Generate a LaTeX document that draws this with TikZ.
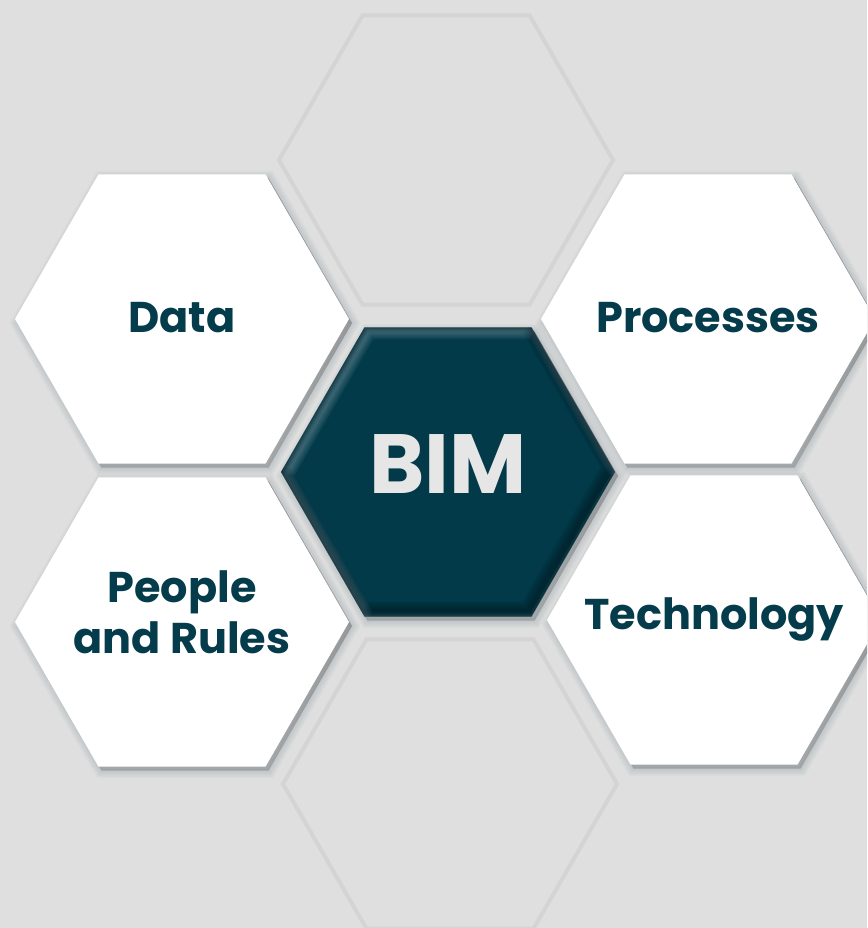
\documentclass[tikz,border=0pt]{standalone}
\usepackage{fontspec}
\setmainfont{Poppins}
\definecolor{canvas}{HTML}{DFDFDF}
\definecolor{rim}{HTML}{D4D4D4}
\definecolor{petrol}{HTML}{023A4A}
\definecolor{ink}{HTML}{053C4B}
\definecolor{shade}{HTML}{7F929C}
\definecolor{chalk}{HTML}{E6E6E6}
\pgfdeclarelayer{bg}
\pgfdeclarelayer{base}
\pgfsetlayers{bg,base,main}

\begin{document}
\begin{tikzpicture}[x=1pt, y=1pt,
		pillar/.style={text=ink, font=\fontsize{43}{51}\selectfont\bfseries, align=center, inner sep=0pt},
		core/.style={text=chalk, font=\fontsize{84}{84}\selectfont\bfseries, inner sep=0pt},
		ghost/.style={fill=canvas, draw=rim, line width=4pt}]
	\useasboundingbox (0,0) rectangle (867,928);
	\begin{pgfonlayer}{bg}
		\fill[canvas] (0,0) rectangle (867,928);
	\end{pgfonlayer}
	\node[core] (bim) at (448,464) {BIM};
	\node[pillar] (data) at (182,610) {Data};
	\node[pillar] (proc) at (708,610) {Processes};
	\node[pillar] (people) at (182,316) {People\\and Rules};
	\node[pillar] (tech) at (714,308) {Technology};
	\coordinate (upper) at (446,768);
	\coordinate (lower) at (450,144);
	\begin{pgfonlayer}{base}
		\clip (0,0) rectangle (867,928);
		\foreach \h in {upper,lower}
			\draw[ghost] ([shift={(0:167)}]\h) \foreach \a in {60,120,...,300}{-- ([shift={(\a:167)}]\h)} -- cycle;
		\foreach \h/\dy in {bim/-8,data/-1,proc/-1,people/-10,tech/0}
			\foreach \k in {1,...,6}
				\fill[shade, opacity=0.05, draw=shade, line width=\k*2.5pt] ([xshift=3, yshift=\dy-4, shift={(0:167)}]\h.center) \foreach \a in {60,120,...,300}{-- ([xshift=3, yshift=\dy-4, shift={(\a:167)}]\h.center)} -- cycle;
		\foreach \h/\dy in {data/-1,proc/-1,people/-10,tech/0}
			\fill[white] ([yshift=\dy, shift={(0:167)}]\h.center) \foreach \a in {60,120,...,300}{-- ([yshift=\dy, shift={(\a:167)}]\h.center)} -- cycle;
		\fill[petrol] ([yshift=-8, shift={(0:167)}]bim.center) \foreach \a in {60,120,...,300}{-- ([yshift=-8, shift={(\a:167)}]bim.center)} -- cycle;
		\begin{scope}
			\clip ([yshift=-8, shift={(0:167)}]bim.center) \foreach \a in {60,120,...,300}{-- ([yshift=-8, shift={(\a:167)}]bim.center)} -- cycle;
			\foreach \k in {1,...,4}
				\draw[white, opacity=0.06, line width=\k*4pt] ([xshift=4, yshift=-12, shift={(0:167)}]bim.center) \foreach \a in {60,120,...,300}{-- ([xshift=4, yshift=-12, shift={(\a:167)}]bim.center)} -- cycle;
			\foreach \k in {1,...,4}
				\draw[black, opacity=0.09, line width=\k*5pt] ([xshift=-3, yshift=-3, shift={(0:167)}]bim.center) \foreach \a in {60,120,...,300}{-- ([xshift=-3, yshift=-3, shift={(\a:167)}]bim.center)} -- cycle;
		\end{scope}
	\end{pgfonlayer}
\end{tikzpicture}
\end{document}
